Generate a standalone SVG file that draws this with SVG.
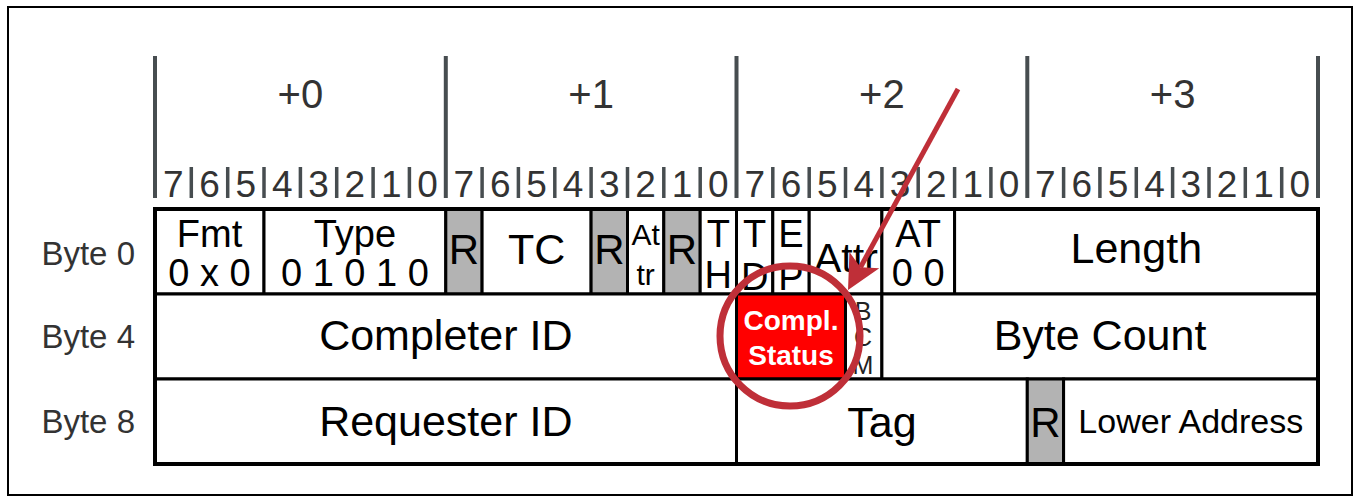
<svg xmlns="http://www.w3.org/2000/svg" width="1360" height="498" viewBox="0 0 1360 498">
<style>
text{font-family:"Liberation Sans",Arial,sans-serif;}
.hdr{font-size:40px;fill:#333;text-anchor:middle;}
.dig{font-size:37px;fill:#333;text-anchor:middle;}
.byte{font-size:33px;fill:#333;text-anchor:end;}
.cell{fill:#fff;stroke:#000;stroke-width:3;}
.res{fill:#b3b3b3;stroke:#000;stroke-width:3;}
.red{fill:#ff0000;stroke:#000;stroke-width:3;}
.big{font-size:43px;fill:#000;text-anchor:middle;}
.mid{font-size:38px;fill:#000;text-anchor:middle;}
.r{font-size:42px;fill:#000;text-anchor:middle;}
.sm{font-size:30px;fill:#000;text-anchor:middle;}
.cs{font-size:28px;font-weight:bold;fill:#fff;text-anchor:middle;}
.bl{stroke:#474d50;stroke-width:4;}
.tk{stroke:#474d50;stroke-width:3.5;}
.ann{stroke:#bf2f38;fill:none;}
</style>
<defs>
<marker id="ah" markerUnits="userSpaceOnUse" markerWidth="36" markerHeight="36" refX="8" refY="17" orient="auto" overflow="visible">
<path d="M0,0 L34,17 L0,34 L8,17 Z" fill="#bf2f38"/>
</marker>
</defs>
<rect x="8" y="7" width="1344" height="488" fill="#fff" stroke="#000" stroke-width="2"/>
<g id="header">
<text class="hdr" x="300.4" y="108">+0</text>
<text class="hdr" x="591.1" y="108">+1</text>
<text class="hdr" x="881.9" y="108">+2</text>
<text class="hdr" x="1172.6" y="108">+3</text>
<line class="bl" x1="155" y1="56" x2="155" y2="198"/>
<line class="bl" x1="445.8" y1="56" x2="445.8" y2="198"/>
<line class="bl" x1="736.5" y1="56" x2="736.5" y2="198"/>
<line class="bl" x1="1027.3" y1="56" x2="1027.3" y2="198"/>
<line class="bl" x1="1318" y1="56" x2="1318" y2="198"/>
<g class="tk">
<line x1="191.3" y1="167" x2="191.3" y2="198"/><line x1="227.7" y1="167" x2="227.7" y2="198"/><line x1="264" y1="167" x2="264" y2="198"/><line x1="300.4" y1="167" x2="300.4" y2="198"/><line x1="336.7" y1="167" x2="336.7" y2="198"/><line x1="373.1" y1="167" x2="373.1" y2="198"/><line x1="409.4" y1="167" x2="409.4" y2="198"/>
<line x1="482.1" y1="167" x2="482.1" y2="198"/><line x1="518.4" y1="167" x2="518.4" y2="198"/><line x1="554.8" y1="167" x2="554.8" y2="198"/><line x1="591.1" y1="167" x2="591.1" y2="198"/><line x1="627.5" y1="167" x2="627.5" y2="198"/><line x1="663.8" y1="167" x2="663.8" y2="198"/><line x1="700.2" y1="167" x2="700.2" y2="198"/>
<line x1="772.8" y1="167" x2="772.8" y2="198"/><line x1="809.2" y1="167" x2="809.2" y2="198"/><line x1="845.5" y1="167" x2="845.5" y2="198"/><line x1="881.9" y1="167" x2="881.9" y2="198"/><line x1="918.2" y1="167" x2="918.2" y2="198"/><line x1="954.6" y1="167" x2="954.6" y2="198"/><line x1="990.9" y1="167" x2="990.9" y2="198"/>
<line x1="1063.6" y1="167" x2="1063.6" y2="198"/><line x1="1099.9" y1="167" x2="1099.9" y2="198"/><line x1="1136.3" y1="167" x2="1136.3" y2="198"/><line x1="1172.6" y1="167" x2="1172.6" y2="198"/><line x1="1209" y1="167" x2="1209" y2="198"/><line x1="1245.3" y1="167" x2="1245.3" y2="198"/><line x1="1281.7" y1="167" x2="1281.7" y2="198"/>
</g>
<text class="dig" x="173.2" y="197">7</text><text class="dig" x="209.5" y="197">6</text><text class="dig" x="245.9" y="197">5</text><text class="dig" x="282.2" y="197">4</text><text class="dig" x="318.5" y="197">3</text><text class="dig" x="354.9" y="197">2</text><text class="dig" x="391.2" y="197">1</text><text class="dig" x="427.6" y="197">0</text>
<text class="dig" x="463.9" y="197">7</text><text class="dig" x="500.3" y="197">6</text><text class="dig" x="536.6" y="197">5</text><text class="dig" x="573" y="197">4</text><text class="dig" x="609.3" y="197">3</text><text class="dig" x="645.6" y="197">2</text><text class="dig" x="682" y="197">1</text><text class="dig" x="718.3" y="197">0</text>
<text class="dig" x="754.7" y="197">7</text><text class="dig" x="791" y="197">6</text><text class="dig" x="827.4" y="197">5</text><text class="dig" x="863.7" y="197">4</text><text class="dig" x="900" y="197">3</text><text class="dig" x="936.4" y="197">2</text><text class="dig" x="972.7" y="197">1</text><text class="dig" x="1009.1" y="197">0</text>
<text class="dig" x="1045.4" y="197">7</text><text class="dig" x="1081.8" y="197">6</text><text class="dig" x="1118.1" y="197">5</text><text class="dig" x="1154.5" y="197">4</text><text class="dig" x="1190.8" y="197">3</text><text class="dig" x="1227.1" y="197">2</text><text class="dig" x="1263.5" y="197">1</text><text class="dig" x="1299.8" y="197">0</text>
</g>
<g id="byte-labels">
<text class="byte" x="135" y="265">Byte 0</text>
<text class="byte" x="135" y="348">Byte 4</text>
<text class="byte" x="135" y="433">Byte 8</text>
</g>
<g id="fmt"><rect class="cell" x="155" y="209" width="109" height="85"/><text class="mid" x="209.5" y="247">Fmt</text><text class="mid" x="209.5" y="286">0 x 0</text></g>
<g id="type"><rect class="cell" x="264" y="209" width="181.8" height="85"/><text class="mid" x="354.9" y="247">Type</text><text class="mid" x="354.9" y="286">0 1 0 1 0</text></g>
<g id="r1"><rect class="res" x="445.8" y="209" width="36.3" height="85"/><text class="r" x="464" y="264">R</text></g>
<g id="tc"><rect class="cell" x="482.1" y="209" width="109" height="85"/><text class="big" x="536.6" y="264">TC</text></g>
<g id="r2"><rect class="res" x="591.1" y="209" width="36.4" height="85"/><text class="r" x="609.3" y="264">R</text></g>
<g id="attr1"><rect class="cell" x="627.5" y="209" width="36.3" height="85"/><text class="sm" x="645.6" y="245">At</text><text class="sm" x="645.6" y="285">tr</text></g>
<g id="r3"><rect class="res" x="663.8" y="209" width="36.4" height="85"/><text class="r" x="682" y="264">R</text></g>
<g id="th"><rect class="cell" x="700.2" y="209" width="36.3" height="85"/><text class="mid" x="718.3" y="247">T</text><text class="mid" x="718.3" y="288">H</text></g>
<g id="td"><rect class="cell" x="736.5" y="209" width="36.3" height="85"/><text class="mid" x="754.7" y="247">T</text><text class="mid" x="754.7" y="290">D</text></g>
<g id="ep"><rect class="cell" x="772.8" y="209" width="36.4" height="85"/><text class="mid" x="791" y="247">E</text><text class="mid" x="791" y="290">P</text></g>
<g id="attr2"><rect class="cell" x="809.2" y="209" width="72.7" height="85"/><text x="814" y="272" font-size="41">Attr</text></g>
<g id="at"><rect class="cell" x="881.9" y="209" width="72.7" height="85"/><text class="mid" x="918.2" y="247">AT</text><text class="mid" x="918.2" y="286">0 0</text></g>
<g id="length"><rect class="cell" x="954.6" y="209" width="363.4" height="85"/><text class="big" x="1136.3" y="263">Length</text></g>
<g id="completer-id"><rect class="cell" x="155" y="294" width="581.5" height="85"/><text class="big" x="445.8" y="350">Completer ID</text></g>
<g id="compl-status"><rect class="red" x="736.5" y="294" width="109" height="85"/><text class="cs" x="791" y="330">Compl.</text><text class="cs" x="791" y="365">Status</text></g>
<g id="bcm"><rect class="cell" x="845.5" y="294" width="36.4" height="85"/><text x="863" y="320" font-size="25" fill="#222" text-anchor="middle">B</text><text x="863" y="346" font-size="25" fill="#222" text-anchor="middle">C</text><text x="863" y="374" font-size="25" fill="#222" text-anchor="middle">M</text></g>
<g id="byte-count"><rect class="cell" x="881.9" y="294" width="436.1" height="85"/><text class="big" x="1100" y="350">Byte Count</text></g>
<g id="requester-id"><rect class="cell" x="155" y="379" width="581.5" height="85"/><text class="big" x="445.8" y="436">Requester ID</text></g>
<g id="tag"><rect class="cell" x="736.5" y="379" width="290.8" height="85"/><text class="big" x="881.9" y="437">Tag</text></g>
<g id="r4"><rect class="res" x="1027.3" y="379" width="36.3" height="85"/><text class="r" x="1045.4" y="437">R</text></g>
<g id="lower-address"><rect class="cell" x="1063.6" y="379" width="254.4" height="85"/><text x="1190.8" y="433" font-size="34" text-anchor="middle">Lower Address</text></g>
<rect x="155" y="209" width="1163" height="255" fill="none" stroke="#000" stroke-width="4"/>
<g id="connectors">
<circle class="ann" cx="790" cy="336" r="70" stroke-width="7"/>
<line class="ann" x1="958" y1="89" x2="860.5" y2="267.2" stroke-width="5" marker-end="url(#ah)"/>
</g>
</svg>
